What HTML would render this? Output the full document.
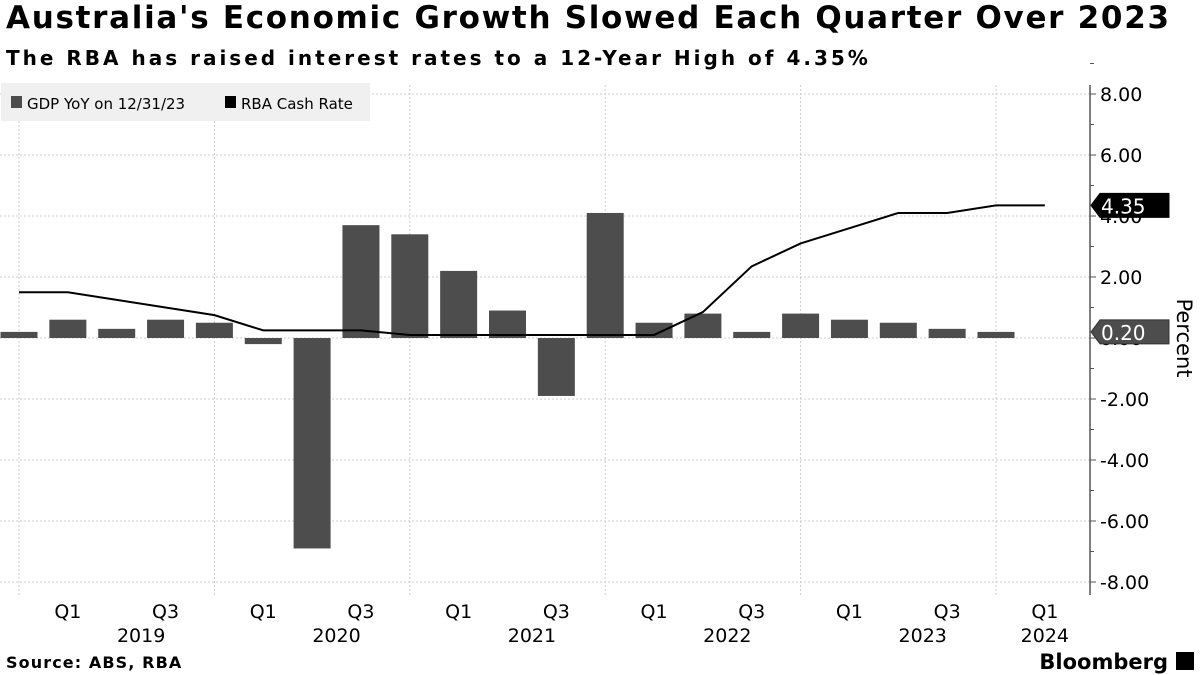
<!DOCTYPE html>
<html><head><meta charset="utf-8"><style>
body{margin:0;background:#fff;width:1200px;height:675px;overflow:hidden;font-family:"DejaVu Sans","Liberation Sans",sans-serif;}
.t{position:absolute;left:6px;top:0px;font-size:31px;font-weight:bold;color:#000;letter-spacing:1.7px;white-space:nowrap}
.s{position:absolute;left:6px;top:46px;font-size:20px;font-weight:bold;color:#000;letter-spacing:3px;white-space:nowrap}
</style></head><body>
<div class="t">Australia's Economic Growth Slowed Each Quarter Over 2023</div>
<div class="s">The RBA has raised interest rates to a 12-Year High of 4.35%</div>
<svg id="c" width="1200" height="675" style="position:absolute;left:0;top:0"></svg>
<script>
const quarters=["Q4 2018","Q1 2019","Q2 2019","Q3 2019","Q4 2019","Q1 2020","Q2 2020","Q3 2020","Q4 2020","Q1 2021","Q2 2021","Q3 2021","Q4 2021","Q1 2022","Q2 2022","Q3 2022","Q4 2022","Q1 2023","Q2 2023","Q3 2023","Q4 2023","Q1 2024"];
const gdp=[0.2,0.6,0.3,0.6,0.5,-0.2,-6.9,3.7,3.4,2.2,0.9,-1.9,4.1,0.5,0.8,0.2,0.8,0.6,0.5,0.3,0.2];
const cash=[1.5,1.5,1.25,1.0,0.75,0.25,0.25,0.25,0.1,0.1,0.1,0.1,0.1,0.1,0.85,2.35,3.1,3.6,4.1,4.1,4.35,4.35];
const yTicks=[8,6,4,2,0,-2,-4,-6,-8];
const xLabels=[[1,"Q1"],[3,"Q3"],[5,"Q1"],[7,"Q3"],[9,"Q1"],[11,"Q3"],[13,"Q1"],[15,"Q3"],[17,"Q1"],[19,"Q3"],[21,"Q1"]];
const years=[[2.5,"2019"],[6.5,"2020"],[10.5,"2021"],[14.5,"2022"],[18.5,"2023"],[21,"2024"]];
const svg=document.getElementById('c');const NS="http://www.w3.org/2000/svg";
const x=i=>19+i*48.85;const y=v=>338-v*30.5;
function mk(t,a,p){const e=document.createElementNS(NS,t);for(const k in a)e.setAttribute(k,a[k]);(p||svg).appendChild(e);return e;}
yTicks.forEach(v=>{const l=mk('line',{x1:0,x2:1090,y1:y(v),y2:y(v),stroke:'#ccc','stroke-dasharray':'2,2'});


const t=mk('text',{x:1100,y:y(v)+7,'font-size':19,fill:'#000'});t.textContent=v.toFixed(2);


mk('line',{x1:1090,x2:1096,y1:y(v),y2:y(v),stroke:'#555'});mk('line',{x1:1090,x2:1094,y1:y(v+1),y2:y(v+1),stroke:'#555'});});
[0,4,8,12,16,20].forEach(i=>{const l=mk('line',{x1:x(i),x2:x(i),y1:85,y2:595,stroke:'#ccc','stroke-dasharray':'2,2'});

});
mk('line',{x1:1090,x2:1090,y1:85,y2:595,stroke:'#555','stroke-width':1.5});
gdp.forEach((v,i)=>{const r=mk('rect',{x:x(i)-18.5,width:37,y:Math.min(y(v),y(0)),height:Math.abs(y(v)-y(0)),fill:'#4d4d4d'});

});
const p=mk('polyline',{points:cash.map((v,i)=>x(i)+','+y(v)).join(' '),fill:'none',stroke:'#000','stroke-width':2});


xLabels.forEach(([i,s])=>{const t=mk('text',{x:x(i),y:618,'font-size':19,'text-anchor':'middle'});t.textContent=s;

});
years.forEach(([i,s])=>{const t=mk('text',{x:x(i),y:642,'font-size':19,'text-anchor':'middle'});t.textContent=s;

});
function tag(v,col,name){const yy=y(v);const g=mk('g',{});


mk('path',{d:`M1091 ${yy} L1100 ${yy-12} L1169 ${yy-12} L1169 ${yy+12} L1100 ${yy+12} Z`,fill:col,stroke:col=='#000'?'#000':'#333'},g);
const t=mk('text',{x:1101,y:yy+8,'font-size':20,fill:'#fff'},g);t.textContent=v.toFixed(2);}
tag(cash[cash.length-1],'#000','cash-rate-tag');tag(gdp[gdp.length-1],'#4d4d4d','gdp-tag');
const pt=mk('text',{x:1177,y:338,'font-size':21,'text-anchor':'middle',transform:'rotate(90 1177 338)'});pt.textContent='Percent';


const lg=mk('g',{});


mk('rect',{x:1,y:83,width:369,height:38,fill:'#f0f0f0'},lg);
mk('rect',{x:11,y:96,width:11,height:12,fill:'#4d4d4d'},lg);
let t1=mk('text',{x:27,y:109,'font-size':15},lg);t1.textContent='GDP YoY on 12/31/23';
mk('rect',{x:225,y:96,width:11,height:12,fill:'#000'},lg);
let t2=mk('text',{x:241,y:109,'font-size':15},lg);t2.textContent='RBA Cash Rate';
let s=mk('text',{x:6,y:668,'font-size':16,'font-weight':'bold','letter-spacing':'1.1'});s.textContent='Source: ABS, RBA';


let b=mk('text',{x:1168,y:669,'font-size':21,'font-weight':'bold','text-anchor':'end'});b.textContent='Bloomberg';


mk('rect',{x:1176,y:652,width:18,height:18,fill:'#000'});
</script>
</body></html>
